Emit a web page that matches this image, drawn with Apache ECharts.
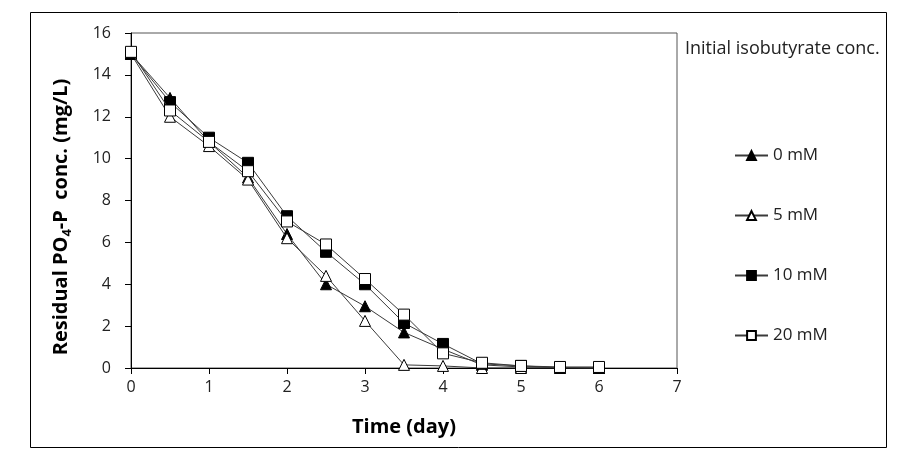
<!DOCTYPE html>
<html><head><meta charset="utf-8">
<script src="https://cdn.jsdelivr.net/npm/echarts@6/dist/echarts.min.js"></script>
<style>html,body{margin:0;padding:0;background:#fff}#c{width:904px;height:458px}</style>
</head><body><div id="c"></div>
<script>
const days = [0, 0.5, 1, 1.5, 2, 2.5, 3, 3.5, 4, 4.5, 5, 5.5, 6];
const s0mM  = [15.0, 12.9, 10.8, 9.1, 6.4, 4.0, 2.95, 1.7, 0.9, 0.15, 0.05, 0.02, 0.0];
const s5mM  = [15.0, 12.0, 10.6, 9.0, 6.2, 4.4, 2.25, 0.15, 0.1, 0.0, 0.0, 0.0, 0.0];
const s10mM = [15.0, 12.7, 11.0, 9.8, 7.25, 5.55, 4.0, 2.15, 1.15, 0.2, 0.1, 0.02, 0.0];
const s20mM = [15.1, 12.3, 10.8, 9.4, 7.0, 5.9, 4.25, 2.55, 0.7, 0.25, 0.1, 0.05, 0.05];
const seriesNames = ['0 mM', '5 mM', '10 mM', '20 mM'];
const xTicks = {min: 0, max: 7, step: 1};
const yTicks = {min: 0, max: 16, step: 2};
const yTitle = '{a|Residual PO}{s|4}{a|-P  conc. (mg/L)}';

const FONT = '"Open Sans", "Liberation Sans", sans-serif';
const pair = arr => days.map((d, i) => [d, arr[i]]);
const lineCol = '#3a3a3a';
function mk(name, arr, symbol, filled, z) {
  return {
    name, type: 'line', data: pair(arr), symbol, symbolSize: 11,
    z,
    lineStyle: {color: lineCol, width: 1},
    itemStyle: {color: filled ? '#000' : '#fff', borderColor: '#000', borderWidth: 1},
    emphasis: {disabled: true}, animation: false
  };
}
const chart = echarts.init(document.getElementById('c'), null, {renderer: 'canvas'});
chart.setOption({
  animation: false,
  backgroundColor: '#fff',
  grid: {left: 131, right: 227, top: 33, bottom: 90, show: true, borderColor: '#555', borderWidth: 1},
  title: {text: 'Initial isobutyrate conc.', left: 680, top: 35,
    textStyle: {fontFamily: FONT, fontSize: 18, fontWeight: 'normal', color: '#222'}},
  legend: {
    orient: 'vertical', left: 729, top: 142, itemWidth: 33, itemHeight: 11, itemGap: 43,
    data: seriesNames,
    textStyle: {fontFamily: FONT, fontSize: 17, color: '#222'}
  },
  xAxis: {
    type: 'value', min: xTicks.min, max: xTicks.max, interval: xTicks.step,
    name: 'Time (day)', nameLocation: 'middle', nameGap: 49,
    nameTextStyle: {fontFamily: FONT, fontSize: 20, fontWeight: 'bold', color: '#000'},
    axisLine: {lineStyle: {color: '#000'}},
    axisTick: {show: true, length: 6, lineStyle: {color: '#000'}},
    axisLabel: {fontFamily: FONT, fontSize: 16, color: '#222', margin: 11},
    splitLine: {show: false}
  },
  yAxis: {
    type: 'value', min: yTicks.min, max: yTicks.max, interval: yTicks.step,
    axisLine: {show: true, lineStyle: {color: '#000'}},
    axisTick: {show: true, length: 6, lineStyle: {color: '#000'}},
    axisLabel: {fontFamily: FONT, fontSize: 16, color: '#222', margin: 20},
    splitLine: {show: false}
  },
  graphic: [
    {type: 'rect', shape: {x: 30.5, y: 12.5, width: 856, height: 435}, style: {fill: 'none', stroke: '#000', lineWidth: 1}, silent: true},
    {type: 'text', x: 61, y: 217, rotation: Math.PI / 2, silent: true,
      style: {
        text: yTitle, align: 'center', verticalAlign: 'middle',
        rich: {
          a: {fontFamily: FONT, fontSize: 20, fontWeight: 'bold', fill: '#000'},
          s: {fontFamily: FONT, fontSize: 13, fontWeight: 'bold', fill: '#000', verticalAlign: 'bottom', padding: [12, 0, 0, 0]}
        }
      }}
  ],
  series: [
    mk(seriesNames[0], s0mM, 'triangle', true, 2),
    mk(seriesNames[1], s5mM, 'triangle', false, 3),
    mk(seriesNames[2], s10mM, 'rect', true, 4),
    mk(seriesNames[3], s20mM, 'rect', false, 5)
  ]
});
</script></body></html>
